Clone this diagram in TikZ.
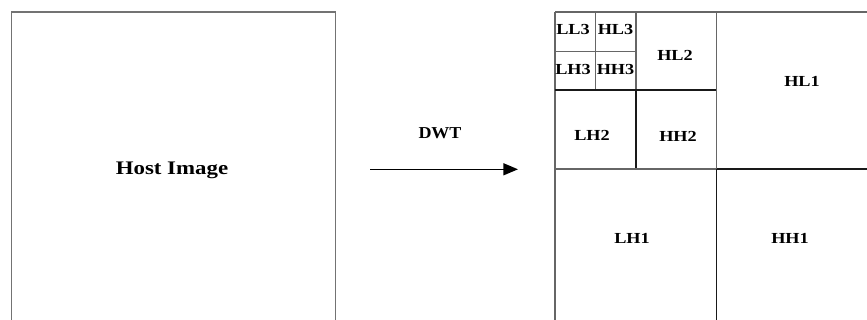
\documentclass[tikz,border=0pt]{standalone}
\usepackage{fontspec}
\setmainfont{Liberation Serif}
\usetikzlibrary{arrows.meta}
\newcommand{\wide}[2][1.19]{\scalebox{#1}[1]{#2}}
\begin{document}
\begin{tikzpicture}[x=0.75pt,y=-0.75pt,
  lbl/.style={font=\bfseries\fontsize{11.5}{12}\selectfont, inner sep=0pt},
  gline/.style={draw=black!60, line width=0.9pt},
  bline/.style={draw=black!90, line width=1.1pt}]
\useasboundingbox (0,0) rectangle (867,320);
\clip (0,0) rectangle (867,320);
% host image
\node[draw=black!55, line width=0.9pt, minimum width=323.5*0.75pt, minimum height=316*0.75pt,
  anchor=north west, inner sep=0pt] (host) at (11,11.5) {};
\node[lbl, font=\bfseries\fontsize{14.4}{15}\selectfont, anchor=base] (hosttxt) at (172,175) {\wide{Host Image}};
% arrow
\coordinate (a1) at (370,169.3);
\coordinate (a2) at (518,169.3);
\draw[line width=1.1pt, -{Triangle[length=11pt,width=9pt]}] (a1) -- (a2);
\node[lbl, font=\bfseries\fontsize{12.5}{13}\selectfont] (dwt) at (440,133) {\wide[1.08]{DWT}};
% grid
\draw[gline] (555,12) -- (880,12);
\draw[gline] (555,12) -- (555,330);
\draw[gline] (555,51.5) -- (636,51.5);
\draw[gline] (595.5,12) -- (595.5,90);
\draw[gline] (636,12) -- (636,90);
\draw[bline] (555,90) -- (716.5,90);
\draw[bline] (636,90) -- (636,169);
\draw[gline] (716.5,12) -- (716.5,169);
\draw[gline] (555,169) -- (716.5,169);
\draw[bline] (716.5,169) -- (880,169);
\draw[bline] (716.5,169) -- (716.5,330);
% labels
\node[lbl] (ll3) at (573,30) {\wide{LL3}};
\node[lbl] (hl3) at (615.5,30) {\wide{HL3}};
\node[lbl] (lh3) at (573,70) {\wide{LH3}};
\node[lbl] (hh3) at (615.5,70) {\wide{HH3}};
\node[lbl] (hl2) at (675,55) {\wide{HL2}};
\node[lbl] (lh2) at (592,135) {\wide{LH2}};
\node[lbl] (hh2) at (678,136) {\wide{HH2}};
\node[lbl] (hl1) at (802,81) {\wide{HL1}};
\node[lbl] (lh1) at (632,238) {\wide{LH1}};
\node[lbl] (hh1) at (790,238) {\wide{HH1}};
\end{tikzpicture}
\end{document}
